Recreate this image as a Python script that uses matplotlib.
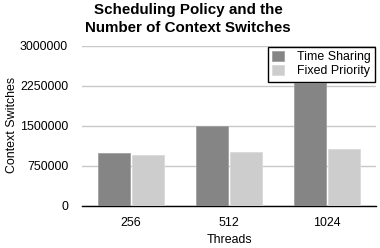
import matplotlib
matplotlib.use("Agg")
import matplotlib.pyplot as plt
import numpy as np

plt.rcParams['font.family'] = ['Liberation Sans', 'DejaVu Sans']

categories = ["256", "512", "1024"]
time_sharing = [1000000, 1500000, 2300000]
fixed_priority = [950000, 1020000, 1060000]
yticks = [0, 750000, 1500000, 2250000, 3000000]

fig = plt.figure(figsize=(3.8, 2.48), dpi=100)
ax = fig.add_axes([82/380, 1-206/248, 294/380, 160/248])

x = np.arange(len(categories))
w = 0.33
gap = 0.01
ax.bar(x - w/2 - gap, time_sharing, width=w, color='#858585', edgecolor='#a0a0a0',
       linewidth=0.6, label='Time Sharing', zorder=3)
ax.bar(x + w/2 + gap, fixed_priority, width=w, color='#cdcdcd', edgecolor='#dadada',
       linewidth=0.6, label='Fixed Priority', zorder=3)

ax.set_xlim(-0.5, 2.5)
ax.set_ylim(0, 3000000)
ax.set_yticks(yticks)
ax.set_yticklabels([str(v) for v in yticks], fontsize=8.9)
ax.set_xticks(x)
ax.set_xticklabels(categories, fontsize=8.9)
ax.tick_params(axis='x', length=0, pad=8)
ax.tick_params(axis='y', length=0, pad=10)
ax.yaxis.grid(True, color='#c8c8c8', linewidth=1, zorder=0)
ax.set_axisbelow(True)
for s in ['top', 'right', 'left']:
    ax.spines[s].set_visible(False)
ax.spines['bottom'].set_color('black')
ax.spines['bottom'].set_linewidth(1)

fig.text(229/380, 1-240/248, 'Threads', fontsize=8.9, ha='center', va='center')
fig.text(12/380, 1-125/248, 'Context Switches', rotation=90, fontsize=8.9, ha='center', va='center')
fig.text(188/380, 1-19/248, 'Scheduling Policy and the\nNumber of Context Switches',
         fontsize=10.9, fontweight='bold', ha='center', va='center', linespacing=1.4)

leg = ax.legend(loc='upper right', bbox_to_anchor=(1.0, 1.0), fontsize=8.9, frameon=True,
                fancybox=False, edgecolor='black', framealpha=1, borderpad=0.35,
                handlelength=0.95, handleheight=0.9, labelspacing=0.12, handletextpad=1.1,
                borderaxespad=0.05)
leg.get_frame().set_linewidth(1)

fig.savefig('out.png', dpi=100)
